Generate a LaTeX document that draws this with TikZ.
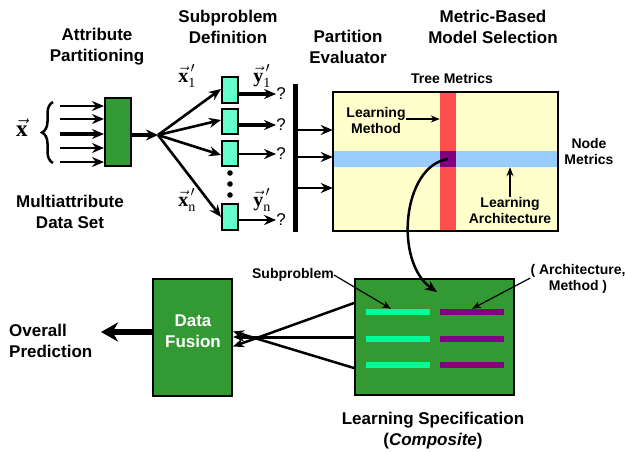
\documentclass[tikz,border=0pt]{standalone}
\usepackage[no-math]{fontspec}
\setmainfont{Liberation Sans}
\newfontfamily\serifb{Liberation Serif}
\usepackage{amsmath}
\usetikzlibrary{arrows.meta,decorations.pathreplacing}
\definecolor{dgreen}{HTML}{339933}
\definecolor{aqua}{HTML}{66FFCC}
\definecolor{sgreen}{HTML}{00FF99}
\definecolor{purp}{HTML}{800080}
\definecolor{redb}{HTML}{FF5050}
\definecolor{blueb}{HTML}{99CCFF}
\definecolor{yell}{HTML}{FFFFCC}
\newcommand{\vsym}[2]{$\vec{\text{\bfseries #1}}^{\,\prime}_{\text{#2}}$}
\begin{document}
\begin{tikzpicture}[x=1pt,y=-1pt,
  lbl/.style={font=\bfseries\fontsize{17}{21}\selectfont, align=center, inner sep=0},
  slbl/.style={font=\bfseries\fontsize{14}{16}\selectfont, align=center, inner sep=0},
  vlbl/.style={font=\serifb\fontsize{20}{22}\selectfont, inner sep=0},
  qlbl/.style={font=\fontsize{17}{20}\selectfont, inner sep=0},
  gbox/.style={draw, line width=2, fill=dgreen, inner sep=0},
  sbox/.style={draw, line width=2, fill=aqua, minimum width=16, minimum height=25, inner sep=0},
  band/.style={inner sep=0, draw=none},
  arr/.style={-{Stealth[length=12pt,width=10pt]}, line width=2.6},
  tarr/.style={-{Stealth[length=12pt,width=10pt]}, line width=3.6},
  farr/.style={-{Stealth[length=11pt,width=9pt]}, line width=2.5},
  larr/.style={-{Stealth[length=9pt,width=7pt]}, line width=1.5}]
\useasboundingbox (0,0) rectangle (626,451);

% titles
\node[lbl] (t1) at (97,47) {Attribute\\Partitioning};
\node[lbl] (t2) at (228,27) {Subproblem\\Definition};
\node[lbl] (t3) at (348,47) {Partition\\Evaluator};
\node[lbl] (t4) at (493,27) {Metric-Based\\Model Selection};
\node[lbl] (t5) at (70,212) {Multiattribute\\Data Set};

% input vector
\node[vlbl, font=\serifb\fontsize{23}{25}\selectfont] (xv) at (22,128) {$\vec{\text{\bfseries x}}$};
\draw[line width=2.5, decorate, decoration={brace, amplitude=11pt}] (53,163) -- (53,102);
\node[gbox, minimum width=26, minimum height=68] (part) at (118,132) {};
\foreach \yy/\ww [count=\i] in {106/2.6,119/2.6,134/3.6,148/2.6,162/2.6}{
  \coordinate (in\i) at (60,\yy);
  \draw[-{Stealth[length=12pt,width=10pt]}, line width=\ww] (in\i) -- (in\i -| part.west);
}

% subproblem boxes
\coordinate (hub) at (158,135);
\draw[-{Stealth[length=12pt,width=11pt]}, line width=4] (part.east |- hub) -- (hub);
\node[sbox, minimum height=26] (b1) at (230,89.5) {};
\node[sbox] (b2) at (230,121) {};
\node[sbox] (b3) at (230,153.5) {};
\node[sbox, minimum height=26] (b4) at (230,216.5) {};
\draw[arr] (hub) -- (b1.west |- 0,89);
\draw[arr] (hub) -- (b2.west |- 0,120);
\draw[arr] (hub) -- (b3.west |- 0,155);
\draw[arr] (hub) -- (b4.west |- 0,217);
\foreach \i in {173,184,195} \fill (230,\i) circle (2.8);

\node[qlbl] (q1) at (281,94) {?};
\node[qlbl] (q2) at (281,125) {?};
\node[qlbl] (q3) at (281,154) {?};
\node[qlbl] (q4) at (281,220) {?};
\draw[tarr] (b1.east |- q1) -- (q1.west);
\draw[tarr] (b2.east |- q2) -- (q2.west);
\draw[arr] (b3.east |- q3) -- (q3.west);
\draw[arr] (b4.east |- q4) -- (q4.west);

\node[vlbl] (x1) at (187,76) {\vsym{x}{1}};
\node[vlbl] (xn) at (187,200) {\vsym{x}{n}};
\node[vlbl] (y1) at (262,76) {\vsym{y}{1}};
\node[vlbl] (yn) at (262,200) {\vsym{y}{n}};

% partition evaluator bar
\node[fill=black, inner sep=0, minimum width=5.5, minimum height=148] (bar) at (295.5,158) {};

% metric-based selection
\node[band, fill=yell, minimum width=225, minimum height=139] (sel) at (445.5,161.5) {};
\node[band, fill=redb, minimum width=16, minimum height=139] (red) at (448,161.5) {};
\node[band, fill=blueb, minimum width=225, minimum height=16] (blue) at (445.5,159) {};
\node[band, fill=purp, minimum width=16, minimum height=16] (pur) at (448,159) {};
\draw[line width=1.8] (sel.north west) rectangle (sel.south east);
\foreach \yy [count=\i] in {130,157,188}{
  \coordinate (pe\i) at (bar.east |- 0,\yy);
  \draw[arr] (pe\i) -- (pe\i -| sel.west);
}
\node[slbl] (tm) at (452,78) {Tree Metrics};
\node[slbl] (lm) at (376,120) {Learning\\Method};
\draw[larr] (lm.east |- 0,119) -- (red.west |- 0,119);
\node[slbl] (nm) at (589,151) {Node\\Metrics};
\node[slbl] (la) at (510,210) {Learning\\Architecture};
\draw[larr] (la.north) -- (la.north |- blue.south);

% composite
\node[gbox, minimum width=159, minimum height=116] (comp) at (434.5,337) {};
\foreach \yy [count=\i] in {312,339,365}{
  \node[band, fill=sgreen, minimum width=64, minimum height=6] (sb\i) at (398,\yy) {};
  \node[band, fill=purp, minimum width=64, minimum height=6] (pb\i) at (472,\yy) {};
}
\coordinate (cend) at (437,292);
\draw[line width=2.5, -{Stealth[length=12pt,width=10pt]}] (pur.center) .. controls (402,166) and (394,262) .. (cend);
\node[slbl, anchor=east] (subl) at (334,275) {Subproblem};
\draw[line width=1.2, -{Stealth[length=9pt,width=7pt]}] (subl.east) -- ([xshift=-7pt]sb1.north);
\node[slbl] (arch) at (578,279) {( Architecture,\\Method )};
\draw[line width=1.2, -{Stealth[length=9pt,width=7pt]}] ([yshift=1pt]arch.west) -- (pb1.north);
\node[lbl] (ls) at (433,431) {Learning Specification\\(\textit{Composite})};

% data fusion
\node[gbox, minimum width=79, minimum height=117] (fus) at (192.5,337.5) {};
\node[lbl, text=white] (fl) at (193,331) {Data\\Fusion};
\coordinate (c1) at (comp.west |- 0,303);
\coordinate (c2) at (comp.west |- 0,337);
\coordinate (c3) at (comp.west |- 0,368);
\draw[farr] (c1) -- ([yshift=-9pt]fus.east);
\draw[farr, line width=3] (c2) -- (fus.east |- c2);
\draw[farr] (c3) -- ([yshift=6pt]fus.east);
\node[lbl, anchor=west, align=left] (op) at (9,341) {Overall\\Prediction};
\coordinate (opt) at (101,332);
\draw[line width=6, -{Stealth[length=17pt,width=19pt]}] (fus.west |- opt) -- (opt);
\end{tikzpicture}
\end{document}
